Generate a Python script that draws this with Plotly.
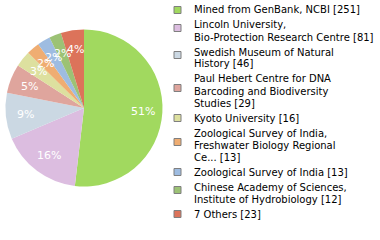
import math
import plotly.graph_objects as go

# Specimen depositories and record counts
labels = [
    "Mined from GenBank, NCBI",
    "Lincoln University,<br>Bio-Protection Research Centre",
    "Swedish Museum of Natural<br>History",
    "Paul Hebert Centre for DNA<br>Barcoding and Biodiversity<br>Studies",
    "Kyoto University",
    "Zoological Survey of India,<br>Freshwater Biology Regional<br>Ce...",
    "Zoological Survey of India",
    "Chinese Academy of Sciences,<br>Institute of Hydrobiology",
    "7 Others",
]
counts = [251, 81, 46, 29, 16, 13, 13, 12, 23]
colors = ["#a1d95f", "#dcbde0", "#cbd8e3", "#dfa59d", "#dde09f",
          "#efad72", "#9ebce1", "#9cc275", "#dc735a"]

W, H = 380, 240
cx, cy, r = 84, 108, 78.5
font = "DejaVu Sans"

total = sum(counts)
pct_text = [f"{int(100 * c / total)}%" for c in counts]

fig = go.Figure(go.Pie(
    labels=[l.replace("<br>", " ") for l in labels],
    values=counts,
    sort=False,
    direction="clockwise",
    rotation=0,
    marker=dict(colors=colors, line=dict(width=0)),
    textinfo="none",
    hoverinfo="label+value+percent",
    domain=dict(x=[(cx - r) / W, (cx + r) / W],
                y=[1 - (cy + r) / H, 1 - (cy - r) / H]),
    showlegend=False,
))

annotations = []
shapes = []

# Percentage labels at 3/4 of the radius along each slice's mid-angle
acc = 0
for c, t in zip(counts, pct_text):
    mid = (acc + c / 2) / total * 2 * math.pi
    acc += c
    px = cx + 0.75 * r * math.sin(mid)
    py = cy - 0.75 * r * math.cos(mid)
    annotations.append(dict(
        x=px / W, y=1 - py / H, xref="paper", yref="paper",
        text=t, showarrow=False, xanchor="center", yanchor="middle",
        font=dict(family=font, size=11, color="white"),
    ))

# Legend: swatch plus wrapped label lines
line_h, gap = 12, 15
y = 10
for lab, c, col in zip(labels, counts, colors):
    lines = lab.split("<br>")
    lines[-1] = f"{lines[-1]} [{c}]"
    ys = [y + i * line_h for i in range(len(lines))]
    for ly, txt in zip(ys, lines):
        annotations.append(dict(
            x=192 / W, y=1 - ly / H, xref="paper", yref="paper",
            text=txt, showarrow=False, xanchor="left", yanchor="middle",
            font=dict(family=font, size=10, color="black"),
        ))
    mid_y = (ys[0] + ys[-1]) / 2 - (3 if len(lines) > 1 else 0)
    shapes.append(dict(
        type="rect", xref="paper", yref="paper",
        x0=174 / W, x1=181 / W, y0=1 - (mid_y - 3.5) / H, y1=1 - (mid_y + 3.5) / H,
        fillcolor=col, line=dict(color="#7f7f7f", width=1),
    ))
    y = ys[-1] + gap

fig.update_layout(
    width=W, height=H,
    margin=dict(l=0, r=0, t=0, b=0),
    paper_bgcolor="white", plot_bgcolor="white",
    annotations=annotations, shapes=shapes,
)

fig.write_html("out.html")
